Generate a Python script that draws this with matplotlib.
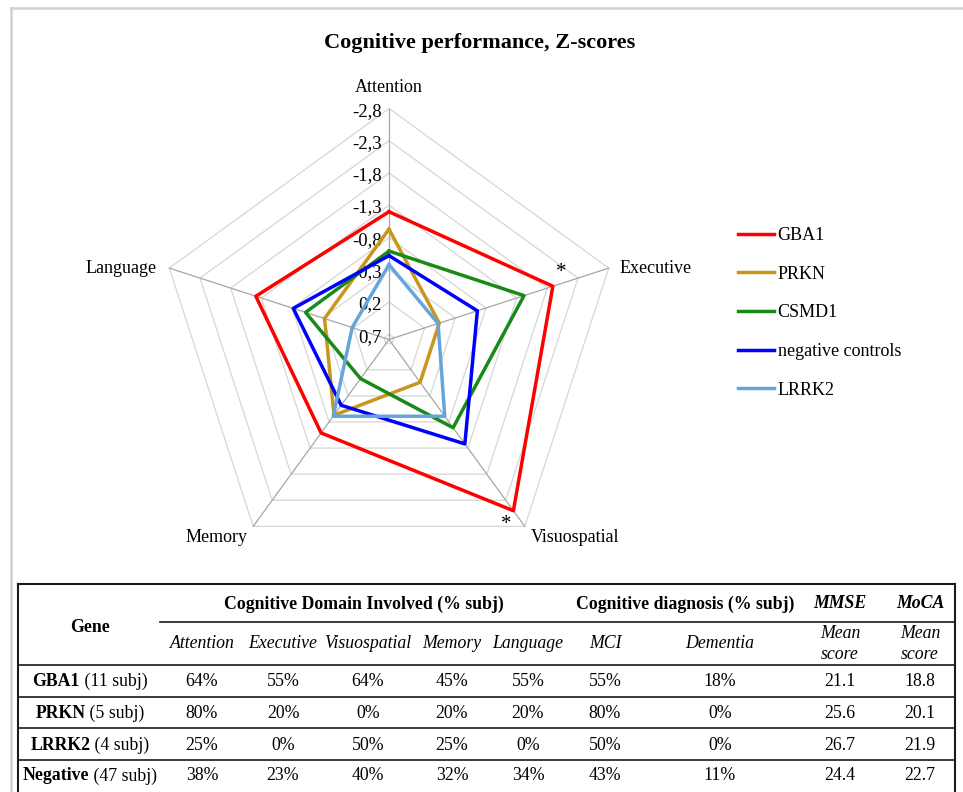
import numpy as np
import matplotlib.pyplot as plt
from matplotlib import transforms

plt.rcParams['font.family'] = ['Liberation Serif', 'DejaVu Serif']

# Datos del radar (Z-scores)
dominios = ['Attention', 'Executive', 'Visuospatial', 'Memory', 'Language']
grupos = ['GBA1', 'PRKN', 'CSMD1', 'negative controls', 'LRRK2']
colores = ['#ff0000', '#c9961c', '#178a17', '#0000ff', '#65a5dd']
gba1 = [-1.20, -1.89, -2.50, -1.01, -1.39]
prkn = [-0.93, -0.04, -0.04, -0.67, -0.27]
csmd1 = [-0.59, -1.42, -0.91, 0.03, -0.58]
negativos = [-0.52, -0.66, -1.22, -0.48, -0.78]
lrrk2 = [-0.38, -0.02, -0.69, -0.69, 0.18]
anillos = [-2.8, -2.3, -1.8, -1.3, -0.8, -0.3, 0.2, 0.7]
centro = 0.78
asteriscos = ['Executive', 'Visuospatial']  # GBA1 significativo

# Datos de la tabla
tabla_genes = ['GBA1', 'PRKN', 'LRRK2', 'Negative']
tabla_n = ['(11 subj)', '(5 subj)', '(4 subj)', '(47 subj)']
t_attention = [64, 80, 25, 38]
t_executive = [55, 20, 0, 23]
t_visuo = [64, 0, 50, 40]
t_memory = [45, 20, 25, 32]
t_language = [55, 20, 0, 34]
t_mci = [55, 80, 50, 43]
t_dementia = [18, 0, 0, 11]
t_mmse = [21.1, 25.6, 26.7, 24.4]
t_moca = [18.8, 20.1, 21.9, 22.7]

W, H = 963, 792
fig = plt.figure(figsize=(W / 100, H / 100), dpi=100)

# capa de fondo en pixeles (marco y tabla)
fondo = fig.add_axes([0, 0, 1, 1])
fondo.set_xlim(0, W)
fondo.set_ylim(H, 0)
fondo.axis('off')
fondo.plot([11, 11], [8, H], color='#d0d0d0', lw=1.8)
fondo.plot([11, W], [8, 8], color='#d0d0d0', lw=1.8)

fig.text(480 / W, 1 - 43 / H, 'Cognitive performance, Z-scores', ha='center', va='center',
         fontsize=16, fontweight='bold')

# radar
cx, cy, R = 389, 339.5, 231
ax = fig.add_axes([(cx - R) / W, 1 - (cy + R) / H, 2 * R / W, 2 * R / H], projection='polar')
ax.set_theta_offset(np.pi / 2)
ax.set_theta_direction(-1)
ax.set_ylim(centro, anillos[0])
ax.grid(False)
ax.spines['polar'].set_visible(False)
ax.set_xticks([])
ax.set_yticks([])
ax.patch.set_alpha(0)

ang = np.arange(len(dominios)) * 2 * np.pi / len(dominios)
ang_c = np.append(ang, ang[0])

for v in anillos:
    ax.plot(ang_c, [v] * len(ang_c), color='#d6d6d6', lw=0.9, clip_on=False, zorder=1)
for a in ang:
    ax.plot([a, a], [centro, anillos[0]], color='#a6a6a6', lw=0.9, clip_on=False, zorder=1)

for v in anillos:
    t = transforms.offset_copy(ax.transData, fig=fig, x=-5, y=-2, units='points')
    ax.text(0, v, ('%.1f' % v).replace('.', ','), transform=t, ha='right', va='center',
            fontsize=13.5)

series = [gba1, prkn, csmd1, negativos, lrrk2]
lineas = []
for vals, nombre, col in zip(series, grupos, colores):
    l, = ax.plot(ang_c, vals + vals[:1], color=col, lw=2.5, label=nombre, clip_on=False, zorder=3)
    lineas.append(l)

# etiquetas de dominio
offs = {'Attention': (0, 15, 'center', 'center'),
        'Executive': (8, 0, 'left', 'center'),
        'Visuospatial': (4, -8, 'left', 'center'),
        'Memory': (-4, -8, 'right', 'center'),
        'Language': (-9, 0, 'right', 'center')}
for a, d in zip(ang, dominios):
    dx, dy, ha, va = offs[d]
    t = transforms.offset_copy(ax.transData, fig=fig, x=dx, y=dy, units='points')
    ax.text(a, anillos[0], d, transform=t, ha=ha, va=va, fontsize=13)

# asteriscos
aoffs = {'Executive': (6, 10), 'Visuospatial': (-5, -10)}
for d in asteriscos:
    i = dominios.index(d)
    dx, dy = aoffs[d]
    t = transforms.offset_copy(ax.transData, fig=fig, x=dx, y=dy, units='points')
    ax.text(ang[i], gba1[i], '*', transform=t, ha='center', va='center', fontsize=15)

fig.legend(lineas, grupos, loc='upper left', bbox_to_anchor=(738 / W, 1 - 227 / H),
           frameon=False, fontsize=13, handlelength=2.0, handletextpad=0.2,
           labelspacing=1.2, borderpad=0, borderaxespad=0)

# tabla
negro = '#1a1a1a'
x0, x1 = 18, 955
fondo.plot([x0, x1], [584, 584], color=negro, lw=1.5)
fondo.plot([x0, x0], [584, H], color=negro, lw=1.5)
fondo.plot([x1, x1], [584, H], color=negro, lw=1.5)
fondo.plot([160, x1], [622, 622], color=negro, lw=1.2)
for yl in [665, 697, 728, 760]:
    fondo.plot([x0, x1], [yl, yl], color=negro, lw=1.2)

fs = 12.8
fondo.text(90, 627, 'Gene', ha='center', va='center', fontsize=fs, fontweight='bold')
fondo.text(364, 604, 'Cognitive Domain Involved (% subj)', ha='center', va='center',
           fontsize=fs, fontweight='bold')
fondo.text(685, 604, 'Cognitive diagnosis (% subj)', ha='center', va='center',
           fontsize=fs, fontweight='bold')
fondo.text(840, 604, 'MMSE', ha='center', va='center', fontsize=fs, fontweight='bold',
           style='italic')
fondo.text(920, 604, 'MoCA', ha='center', va='center', fontsize=fs, fontweight='bold',
           style='italic')

col_x = [202, 283, 368, 452, 528, 605, 720, 840, 920]
subcab = ['Attention', 'Executive', 'Visuospatial', 'Memory', 'Language', 'MCI', 'Dementia',
          'Mean\nscore', 'Mean\nscore']
for x, s in zip(col_x, subcab):
    fondo.text(x, 644, s, ha='center', va='center', fontsize=fs, style='italic',
               linespacing=1.3)

columnas = [t_attention, t_executive, t_visuo, t_memory, t_language, t_mci, t_dementia]
filas_y = [681, 713, 745, 776]
rend = fig.canvas.get_renderer()
for i, (g, n, y) in enumerate(zip(tabla_genes, tabla_n, filas_y)):
    a = fondo.text(0, y, g, ha='left', va='center', fontsize=fs, fontweight='bold')
    b = fondo.text(0, y, ' ' + n, ha='left', va='center', fontsize=fs)
    wa = a.get_window_extent(rend).width
    wb = b.get_window_extent(rend).width
    xs = 90 - (wa + wb) / 2
    a.set_x(xs)
    b.set_x(xs + wa)
    for x, col in zip(col_x, columnas):
        fondo.text(x, y, '%d%%' % col[i], ha='center', va='center', fontsize=fs)
    fondo.text(col_x[7], y, '%.1f' % t_mmse[i], ha='center', va='center', fontsize=fs)
    fondo.text(col_x[8], y, '%.1f' % t_moca[i], ha='center', va='center', fontsize=fs)

fig.savefig('out.png', dpi=100)
